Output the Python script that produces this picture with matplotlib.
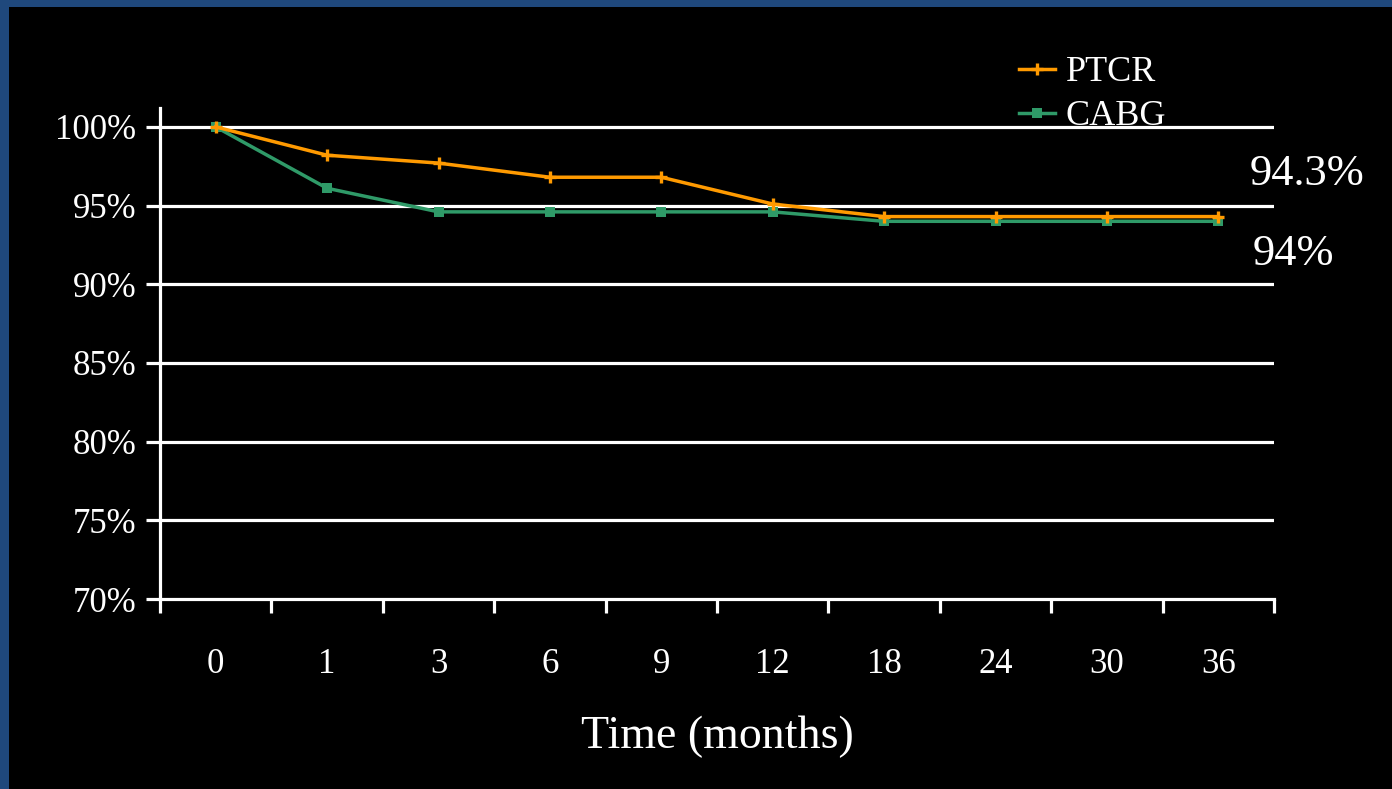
import matplotlib
matplotlib.use("Agg")
import matplotlib.pyplot as plt
from matplotlib.patches import Rectangle
from matplotlib.ticker import FixedLocator, NullFormatter, FixedFormatter

# Survival data
months = ["0", "1", "3", "6", "9", "12", "18", "24", "30", "36"]
ptcr = [100.0, 98.2, 97.7, 96.8, 96.8, 95.1, 94.3, 94.3, 94.3, 94.3]
cabg = [100.0, 96.1, 94.6, 94.6, 94.6, 94.6, 94.0, 94.0, 94.0, 94.0]
y_ticks = [70, 75, 80, 85, 90, 95, 100]
y_labels = ["70%", "75%", "80%", "85%", "90%", "95%", "100%"]
series_names = ["PTCR", "CABG"]

W, H = 1392, 789
ORANGE = "#FF9A00"
GREEN = "#2F9A68"
BLUE = "#1F487C"
SERIF = ["Liberation Serif", "DejaVu Serif"]

fig = plt.figure(figsize=(W / 100, H / 100), dpi=100, facecolor=BLUE)
fig.patches.append(Rectangle((9 / W, 0), 1, 1 - 7 / H, transform=fig.transFigure,
                             facecolor="black", edgecolor="none", zorder=-10))

ax = fig.add_axes([160 / W, (H - 599) / H, (1274 - 160) / W, (599 - 108) / H])
ax.set_zorder(5)
ax.patch.set_visible(False)

x = list(range(len(months)))
ax.plot(x, ptcr, color=ORANGE, lw=2.5, marker="+", ms=9, mew=2.4, label=series_names[0], zorder=4)
ax.plot(x, cabg, color=GREEN, lw=2.5, marker="s", ms=7.5, mew=0, label=series_names[1], zorder=3)

ax.set_xlim(-0.5, len(months) - 0.5)
ax.set_ylim(70, 101.2)

# Grid lines
for yv in y_ticks[1:]:
    ax.axhline(yv, color="white", lw=2.3, zorder=1)

for side in ["top", "right"]:
    ax.spines[side].set_visible(False)
for side in ["left", "bottom"]:
    ax.spines[side].set_color("white")
    ax.spines[side].set_linewidth(2.3)

ax.set_yticks(y_ticks)
ax.set_yticklabels(y_labels, family=SERIF, fontsize=25, color="white")
ax.tick_params(axis="y", length=10, width=2.3, color="white", pad=7)

ax.xaxis.set_major_locator(FixedLocator([i - 0.5 for i in range(len(months) + 1)]))
ax.xaxis.set_major_formatter(NullFormatter())
ax.xaxis.set_minor_locator(FixedLocator(x))
ax.xaxis.set_minor_formatter(FixedFormatter(months))
ax.tick_params(axis="x", which="major", length=10, width=2.3, color="white")
ax.tick_params(axis="x", which="minor", length=0, pad=35, labelsize=25, labelcolor="white")
for lbl in ax.get_xticklabels(minor=True):
    lbl.set_family(SERIF)

ax.set_xlabel("Time (months)", family=SERIF, fontsize=33, color="white", labelpad=25)

leg = fig.legend(loc="upper left", bbox_to_anchor=(1019 / W, 1 - 56 / H),
                 bbox_transform=fig.transFigure, frameon=False, borderpad=0,
                 borderaxespad=0, handlelength=1.0, handletextpad=0.3,
                 labelspacing=0.3, prop={"family": SERIF, "size": 26})
for t in leg.get_texts():
    t.set_color("white")

# End values
fig.text(1250 / W, 1 - 174 / H, f"{ptcr[-1]:g}%", family=SERIF, fontsize=32,
         color="white", ha="left", va="center", zorder=10)
fig.text(1253 / W, 1 - 254 / H, f"{cabg[-1]:g}%", family=SERIF, fontsize=32,
         color="white", ha="left", va="center", zorder=10)

fig.savefig("out.png", dpi=100, facecolor=fig.get_facecolor())
